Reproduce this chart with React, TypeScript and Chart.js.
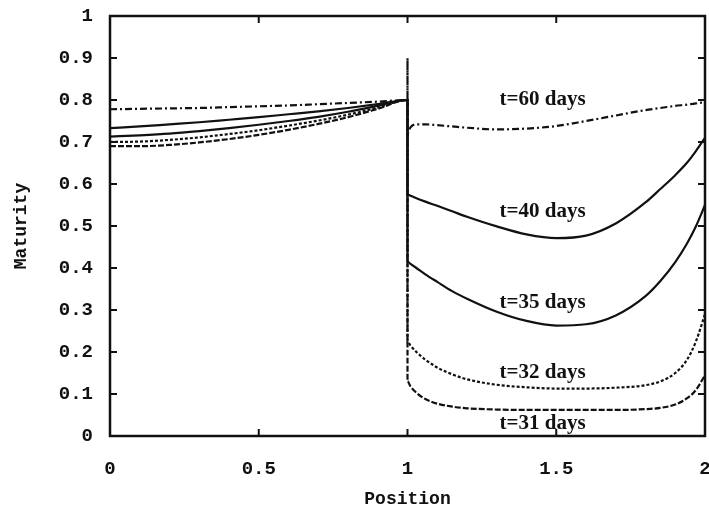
import React, { useEffect, useRef } from "react";
import { Chart, registerables } from "chart.js";

Chart.register(...registerables);

// Shared x positions (x = 1 appears three times: left end, spike, right start)
const positions = [
  0, 0.1, 0.2, 0.3, 0.4, 0.5, 0.6, 0.7, 0.8, 0.9, 1.0,
  1.0, 1.0,
  1.01, 1.03, 1.06, 1.1, 1.15, 1.2, 1.3, 1.4, 1.5, 1.6, 1.7, 1.8, 1.85, 1.9, 1.94, 1.97, 2.0,
];

const t60 = [
  0.778, 0.779, 0.780, 0.781, 0.783, 0.785, 0.787, 0.790, 0.793, 0.796, 0.80,
  0.90, 0.72,
  0.735, 0.742, 0.742, 0.740, 0.737, 0.734, 0.730, 0.732, 0.738, 0.750, 0.763, 0.776, 0.781, 0.786, 0.789, 0.792, 0.795,
];
const t40 = [
  0.733, 0.737, 0.742, 0.747, 0.753, 0.759, 0.766, 0.773, 0.781, 0.790, 0.80,
  0.80, 0.575,
  0.572, 0.566, 0.558, 0.548, 0.535, 0.522, 0.499, 0.480, 0.471, 0.477, 0.506, 0.556, 0.588, 0.621, 0.651, 0.679, 0.71,
];
const t35 = [
  0.713, 0.716, 0.720, 0.726, 0.733, 0.741, 0.750, 0.760, 0.772, 0.786, 0.80,
  0.80, 0.415,
  0.410, 0.400, 0.385, 0.367, 0.345, 0.327, 0.296, 0.274, 0.263, 0.266, 0.287, 0.333, 0.369, 0.414, 0.459, 0.500, 0.55,
];
const t32 = [
  0.700, 0.701, 0.705, 0.711, 0.719, 0.728, 0.739, 0.751, 0.765, 0.782, 0.80,
  0.80, 0.225,
  0.215, 0.200, 0.182, 0.163, 0.147, 0.135, 0.122, 0.116, 0.113, 0.113, 0.115, 0.121, 0.130, 0.150, 0.182, 0.226, 0.29,
];
const t31 = [
  0.690, 0.690, 0.693, 0.699, 0.707, 0.717, 0.729, 0.743, 0.759, 0.779, 0.80,
  0.80, 0.13,
  0.118, 0.103, 0.088, 0.077, 0.070, 0.066, 0.063, 0.062, 0.062, 0.062, 0.062, 0.064, 0.067, 0.075, 0.090, 0.110, 0.145,
];

const curveLabels = ["t=60 days", "t=40 days", "t=35 days", "t=32 days", "t=31 days"];
const labelPosX = [1.454, 1.454, 1.454, 1.454, 1.454];
const labelPosY = [0.80, 0.534, 0.317, 0.151, 0.029];

const yTicks = [0, 0.1, 0.2, 0.3, 0.4, 0.5, 0.6, 0.7, 0.8, 0.9, 1];
const xTicks = [0, 0.5, 1, 1.5, 2];

const INK = "#111";

function toPoints(vals: number[]) {
  return vals.map((v, i) => ({ x: positions[i], y: v }));
}

const framePlugin = {
  id: "frameAndTicks",
  afterDatasetsDraw(chart: any) {
    const { ctx, chartArea, scales } = chart;
    const { left, right, top, bottom } = chartArea;
    ctx.save();
    ctx.strokeStyle = INK;
    ctx.lineWidth = 2;
    const tl = 7;
    ctx.beginPath();
    yTicks.forEach((v) => {
      if (v === 0 || v === 1) return;
      const y = scales.y.getPixelForValue(v);
      ctx.moveTo(left, y);
      ctx.lineTo(left + tl, y);
      ctx.moveTo(right, y);
      ctx.lineTo(right - tl, y);
    });
    xTicks.forEach((v) => {
      if (v === 0 || v === 2) return;
      const x = scales.x.getPixelForValue(v);
      ctx.moveTo(x, bottom);
      ctx.lineTo(x, bottom - tl);
      ctx.moveTo(x, top);
      ctx.lineTo(x, top + tl);
    });
    ctx.stroke();
    ctx.lineWidth = 2.5;
    ctx.strokeRect(left, top, right - left, bottom - top);
    // curve labels
    ctx.fillStyle = INK;
    ctx.font = "bold 21px 'Liberation Serif', serif";
    ctx.textAlign = "center";
    ctx.textBaseline = "middle";
    curveLabels.forEach((t, i) => {
      ctx.fillText(t, scales.x.getPixelForValue(labelPosX[i]), scales.y.getPixelForValue(labelPosY[i]));
    });
    ctx.restore();
  },
};

const bgPlugin = {
  id: "bg",
  beforeDraw(chart: any) {
    const { ctx, width, height } = chart;
    ctx.save();
    ctx.fillStyle = "#fff";
    ctx.fillRect(0, 0, width, height);
    ctx.restore();
  },
};

export default function App() {
  const ref = useRef<HTMLCanvasElement | null>(null);
  useEffect(() => {
    if (!ref.current) return;
    const mk = (data: number[], dash: number[]) => ({
      data: toPoints(data),
      borderColor: INK,
      borderWidth: 2.2,
      borderDash: dash,
      pointRadius: 0,
      fill: false,
      cubicInterpolationMode: "monotone" as const,
    });
    const chart = new Chart(ref.current, {
      type: "line",
      data: {
        datasets: [
          mk(t60, [7, 3, 2, 3]),
          mk(t40, []),
          mk(t35, []),
          mk(t32, [3, 2]),
          mk(t31, [6, 2]),
        ],
      },
      options: {
        responsive: false,
        animation: false,
        layout: { padding: { left: 0, right: 4, top: 16, bottom: 0 } },
        plugins: { legend: { display: false }, tooltip: { enabled: false } },
        scales: {
          x: {
            type: "linear",
            min: 0,
            max: 2,
            afterBuildTicks: (s: any) => {
              s.ticks = xTicks.map((v) => ({ value: v }));
            },
            afterFit: (s: any) => {
              s.height = 75;
              s.paddingLeft = 0;
              s.paddingRight = 0;
            },
            grid: { display: false, drawTicks: false },
            border: { display: false },
            ticks: {
              padding: 22,
              color: INK,
              maxRotation: 0,
              autoSkip: false,
              font: { family: "'Liberation Mono', monospace", size: 19, weight: "bold" },
              callback: (v: any) => String(Number(Number(v).toFixed(1))),
            },
            title: {
              display: true,
              text: "Position",
              color: INK,
              padding: { top: 0, bottom: 1 },
              font: { family: "'Liberation Mono', monospace", size: 18, weight: "bold" },
            },
          },
          y: {
            type: "linear",
            min: 0,
            max: 1,
            afterBuildTicks: (s: any) => {
              s.ticks = yTicks.map((v) => ({ value: v }));
            },
            afterFit: (s: any) => {
              s.width = 110;
              s.paddingTop = 0;
              s.paddingBottom = 0;
            },
            grid: { display: false, drawTicks: false },
            border: { display: false },
            ticks: {
              padding: 17,
              color: INK,
              autoSkip: false,
              font: { family: "'Liberation Mono', monospace", size: 19, weight: "bold" },
              callback: (v: any) => String(Number(Number(v).toFixed(1))),
            },
            title: {
              display: true,
              text: "Maturity",
              color: INK,
              padding: { top: 11, bottom: 0 },
              font: { family: "'Liberation Mono', monospace", size: 18, weight: "bold" },
            },
          },
        },
      },
      plugins: [bgPlugin, framePlugin],
    });
    return () => chart.destroy();
  }, []);
  return (
    <div style={{ position: "fixed", left: 0, top: 0, width: 709, height: 511, background: "#fff" }}>
      <canvas ref={ref} width={709} height={511} style={{ display: "block" }} />
    </div>
  );
}
